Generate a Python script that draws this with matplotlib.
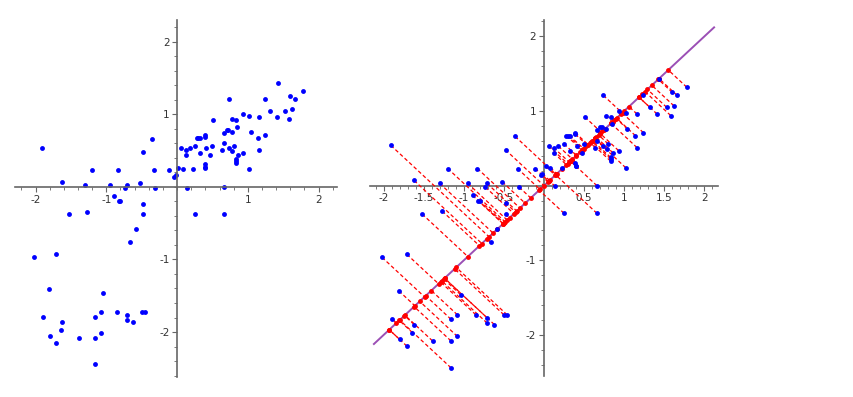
import matplotlib
matplotlib.use('Agg')
import matplotlib.pyplot as plt
import numpy as np
from matplotlib.ticker import MultipleLocator, FixedLocator

# points
xs = [-1.91, -1.62, -1.30, -1.20, -0.95, -0.89, -0.83, -0.73, -0.71, -0.52,
      -0.48, -0.36, -0.33, -0.31, -0.11, -0.04, -0.02, 0.02,
      0.08, 0.14, 0.06, 0.12, 0.12, 0.18, 0.22, 0.25, 0.28, 0.30, 0.32, 0.32,
      0.39, 0.39, 0.39, 0.40, 0.40, 0.41, 0.47, 0.50, 0.51, 0.64, 0.66, 0.66,
      0.66, 0.70, 0.72, 0.74, 0.74, 0.77, 0.77, 0.78, 0.80, 0.83, 0.83, 0.83,
      0.83, 0.85, 0.86, 0.93, 0.93, 1.02, 1.04, 1.02, 1.14, 1.16, 1.16, 1.24,
      1.24, 1.32, 1.41, 1.43, 1.53, 1.58, 1.60, 1.62, 1.66, 1.78,
      -0.82, -0.80, -0.48, -1.52, -1.27, -0.48, -0.58, -0.66, -2.02, -1.71,
      -1.81, -1.04, -1.89, -1.62, -1.64, -1.80, -1.71, -1.39, -1.16, -1.08,
      -1.16, -1.08, -1.16, -0.85, -0.71, -0.71, -0.62, -0.50, -0.46,
      0.25, 0.66]
ys = [0.54, 0.07, 0.03, 0.23, 0.03, -0.13, 0.23, -0.02, 0.03, 0.05,
      0.48, 0.66, 0.23, -0.02, 0.23, 0.14, 0.16, 0.26,
      0.24, -0.01, 0.53, 0.51, 0.44, 0.53, 0.24, 0.56, 0.67, 0.67, 0.67, 0.47,
      0.69, 0.71, 0.31, 0.27, 0.26, 0.53, 0.44, 0.56, 0.92, 0.51, 0.60, 0.74,
      0.00, 0.78, 0.78, 1.21, 0.53, 0.94, 0.76, 0.49, 0.56, 0.92, 0.38, 0.36,
      0.33, 0.83, 0.44, 1.00, 0.47, 0.98, 0.76, 0.24, 0.67, 0.96, 0.51, 1.21,
      0.71, 1.05, 0.96, 1.43, 1.05, 0.94, 1.25, 1.07, 1.21, 1.32,
      -0.20, -0.20, -0.23, -0.38, -0.34, -0.38, -0.58, -0.76, -0.96, -0.92,
      -1.41, -1.46, -1.79, -1.86, -1.97, -2.06, -2.15, -2.08, -1.79, -1.73,
      -2.08, -2.02, -2.44, -1.73, -1.77, -1.84, -1.86, -1.73, -1.73,
      -0.37, -0.37]

x = np.array(xs)
y = np.array(ys)

# direction of the line and projections onto it
u = np.array([1, 1]) / np.sqrt(2)
t = x * u[0] + y * u[1]
px, py = t * u[0], t * u[1]
line_t = np.array([-3, 3])


def sage_axes(ax, xlim, ylim, xmaj, xmin, ymaj, ymin):
    ax.set_xlim(*xlim)
    ax.set_ylim(*ylim)
    for s in ['top', 'right']:
        ax.spines[s].set_visible(False)
    for s in ['left', 'bottom']:
        ax.spines[s].set_position('zero')
        ax.spines[s].set_color('0.4')
        ax.spines[s].set_linewidth(1.2)
    ax.xaxis.set_major_locator(FixedLocator(xmaj))
    ax.yaxis.set_major_locator(FixedLocator(ymaj))
    ax.xaxis.set_minor_locator(MultipleLocator(xmin))
    ax.yaxis.set_minor_locator(MultipleLocator(ymin))
    ax.set_xticklabels(['%g' % v for v in xmaj])
    ax.set_yticklabels(['%g' % v for v in ymaj])
    ax.tick_params(which='major', length=3.5, width=0.8, color='0.4',
                   labelsize=7.5, labelcolor='0.2', pad=2)
    ax.tick_params(which='minor', length=2, width=0.6, color='0.4')
    ax.patch.set_visible(False)


fig = plt.figure(figsize=(8.54, 3.97), dpi=100)
ax1 = fig.add_axes([15/854, 1 - 377/397, 322/854, 357/397])
ax2 = fig.add_axes([370/854, 1 - 376/397, 348/854, 356/397])

ax1.plot(x, y, 'o', color='blue', markersize=3.5, markeredgewidth=0)
sage_axes(ax1, (-2.29, 2.26), (-2.62, 2.30),
          [-2, -1, 1, 2], 0.2, [-2, -1, 1, 2], 0.2)

ax2.plot(line_t * u[0], line_t * u[1], color='#9b4fb5', lw=1.4, zorder=2)
for i in range(len(x)):
    ax2.plot([x[i], px[i]], [y[i], py[i]], color='red', lw=0.9,
             linestyle=(0, (3, 2)), zorder=3)
ax2.plot(px, py, 'o', color='red', markersize=3.5, markeredgewidth=0, zorder=4)
ax2.plot(x, y, 'o', color='blue', markersize=3.5, markeredgewidth=0, zorder=5)
sage_axes(ax2, (-2.17, 2.17), (-2.55, 2.22),
          [-2, -1.5, -1, -0.5, 0.5, 1, 1.5, 2], 0.1, [-2, -1, 1, 2], 0.2)

fig.savefig('out.png', dpi=100)
